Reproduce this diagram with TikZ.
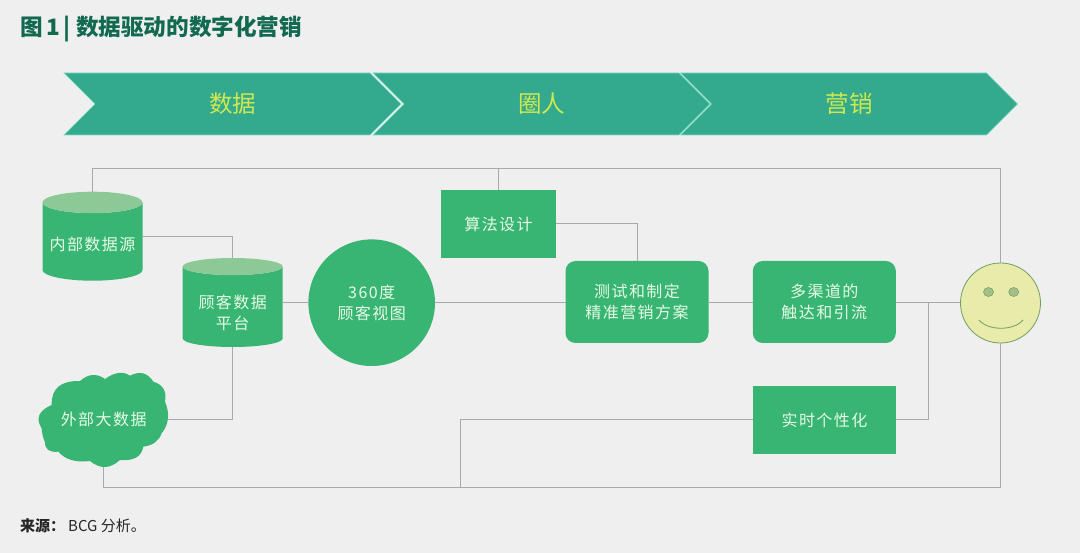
\documentclass[tikz,border=0pt]{standalone}
\usepackage{fontspec}
\setmainfont{Noto Sans CJK SC}
\newfontfamily\cjkwide[LetterSpace=9]{Noto Sans CJK SC}
\usetikzlibrary{shapes.geometric, shapes.symbols}

\definecolor{paper}{HTML}{EFEFF0}
\definecolor{leaf}{HTML}{38B473}
\definecolor{leaflight}{HTML}{8DC996}
\definecolor{teal}{HTML}{33AA8E}
\definecolor{tealedge}{HTML}{7FDCC4}
\definecolor{titlegreen}{HTML}{11694F}
\definecolor{lime}{HTML}{CFE84F}
\definecolor{mint}{HTML}{E6FBE6}
\definecolor{wire}{HTML}{A9A9AB}
\definecolor{face}{HTML}{E8EBA9}
\definecolor{facedge}{HTML}{6F9F62}
\definecolor{eye}{HTML}{A5BD88}

\begin{document}
\begin{tikzpicture}[x=1pt, y=-1pt,
                    main node/.style={inner sep=0pt, outer sep=0pt, align=center, text=mint, fill=leaf,
                      font=\cjkwide\fontsize{16}{21}\selectfont},
                    box node/.style={main node, rectangle, minimum width=#1, minimum height=68pt},
                    round node/.style={main node, rectangle, rounded corners=10pt, minimum width=143pt, minimum height=82pt},
                    drum node/.style={main node, fill=none, cylinder, shape border rotate=90, aspect=0.25, cylinder uses custom fill,
                      cylinder body fill=leaf, cylinder end fill=leaflight, minimum width=100pt, minimum height=89pt, anchor=shape center},
                    arrow node/.style={signal, signal from=west, signal to=east, signal pointer angle=90,
                      fill=teal, draw=tealedge, line width=0.6pt, inner sep=0pt, outer sep=0pt, text=lime,
                      minimum width=337pt, minimum height=62pt, font=\fontsize{23.5}{27}\selectfont},
                    eye node/.style={ellipse, fill=eye, draw=facedge, line width=0.5pt, minimum width=10pt, minimum height=9pt, inner sep=0pt},
                    wire/.style={draw=wire, line width=1pt},
                    hv/.style={to path={-| (\tikztotarget)}},
                    vh/.style={to path={|- (\tikztotarget)}}]

  \useasboundingbox (0,0) rectangle (1080,553);
  \fill[paper] (0,0) rectangle (1080,553);

  \node[anchor=west, inner sep=0pt, text=titlegreen, font=\bfseries\fontsize{22.6}{26}\selectfont] (title) at (20,29) {图\hspace{3.5pt}1\hspace{3.5pt}|\hspace{5.5pt}数据驱动的数字化营销};
  \node[anchor=west, inner sep=0pt, text=black!85, font=\fontsize{15}{18}\selectfont] (source) at (20,526) {\textbf{来源：}\hspace{3pt}BCG 分析。};

  \node[arrow node] (data) at (232.5,104) {数据};
  \node[arrow node] (people) at (541.5,104) {圈人};
  \node[arrow node] (market) at (849,104) {营销};

  \coordinate (topright) at (1000.5,168.5);
  \coordinate (botright) at (1000.5,487);
  \coordinate (botjoin) at (460,487);
  \coordinate (branch) at (928,303);

  \node[drum node] (inner) at (92.5,236.2) {\rule{0pt}{20pt}内部数据源};
  \node[drum node] (platform) at (232.7,302.5) {\rule{0pt}{26pt}顾客数据\\平台};

  % cloud outline
  \begin{scope}[shift={(30,365)}, scale=1/3]
    \fill[leaf] (65,120) .. controls (64,70) and (92,47) .. (150,48)
      .. controls (175,26) and (200,24) .. (225,42)
      .. controls (254,21) and (279,18) .. (300,32)
      .. controls (330,17) and (353,23) .. (370,50)
      .. controls (399,59) and (411,79) .. (405,110)
      .. controls (420,145) and (417,177) .. (395,205)
      .. controls (387,228) and (369,241) .. (340,245)
      .. controls (334,276) and (311,288) .. (270,285)
      .. controls (240,312) and (210,313) .. (180,288)
      .. controls (138,293) and (107,285) .. (85,260)
      .. controls (58,263) and (45,253) .. (45,232)
      .. controls (39,219) and (36,205) .. (35,190)
      .. controls (16,160) and (26,137) .. (65,120) -- cycle;
  \end{scope}
  \node[main node, fill=none, minimum width=129pt, minimum height=94.5pt] (cloud) at (103.7,419.5) {外部大数据};

  \node[main node, circle, minimum size=126.6pt] (view) at (371.7,302.7) {360度\\顾客视图};
  \node[box node=115pt] (algo) at (498.5,224) {算法设计};
  \node[round node] (test) at (637,302) {测试和制定\\精准营销方案};
  \node[round node] (touch) at (824.3,302) {多渠道的\\触达和引流};
  \node[box node=143pt] (realtime) at (824.5,420) {实时个性化};

  \node[circle, fill=face, draw=facedge, line width=0.8pt, minimum size=80pt, inner sep=0pt] (smiley) at (1000.5,303) {};
  \node[eye node] (eyeleft) at (988.5,292) {};
  \node[eye node] (eyeright) at (1013.7,292) {};
  \draw[facedge, line width=0.8pt] (979,320) .. controls (988,331) and (1014,331) .. (1023,320);

  \path[wire]
  (inner.north) edge [vh] (topright)
  (topright) edge (smiley.north)
  (algo.north) edge (algo.north |- topright)
  (inner.east |- inner.shape center) edge [hv] (platform.north)
  (platform.east |- view.west) edge (view.west)
  (platform.south) edge [vh] (cloud.east)
  (view.east) edge (test.west |- view.east)
  (algo.east) edge [hv] (test.north)
  (test.east |- branch) edge (touch.west |- branch)
  (touch.east |- branch) edge (smiley.west)
  (realtime.east) edge [hv] (branch)
  (realtime.west) edge [hv] (botjoin)
  (cloud.south) edge [vh] (botright)
  (botright) edge (smiley.south);

\end{tikzpicture}
\end{document}
